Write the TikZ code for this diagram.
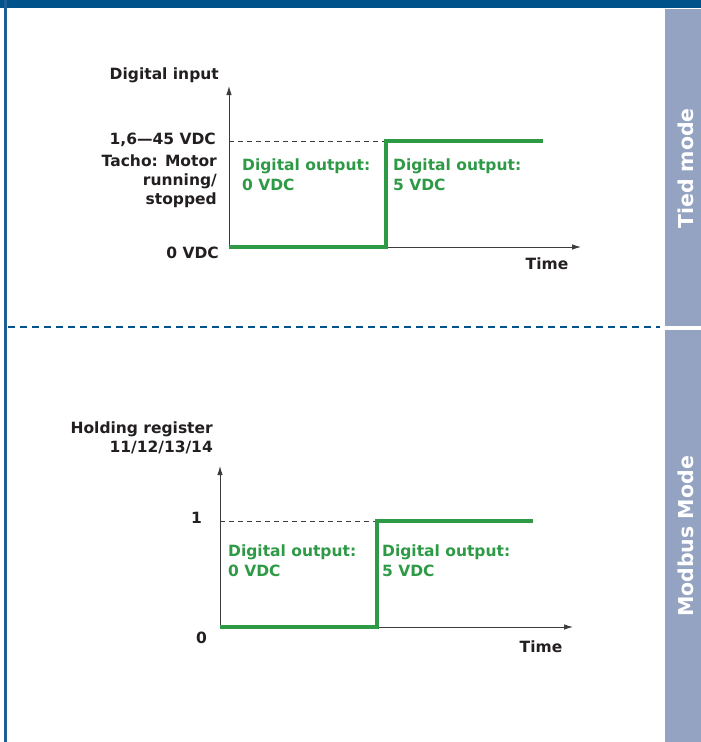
\documentclass[tikz,border=0pt]{standalone}
\usepackage{fontspec}
\setmainfont{DejaVu Sans}
\usetikzlibrary{positioning,arrows.meta}

\definecolor{barblue}{RGB}{0,83,138}
\definecolor{edgeblue}{RGB}{30,95,150}
\definecolor{tabblue}{RGB}{148,163,194}
\definecolor{stepgreen}{RGB}{46,154,70}
\definecolor{inkblack}{RGB}{35,31,32}
\definecolor{axisgray}{RGB}{60,60,60}

\tikzset{
  lbl/.style={inner sep=0pt, text=inkblack, font=\bfseries\fontsize{15.5}{19}\selectfont},
  outlbl/.style={lbl, text=stepgreen, align=left, anchor=north west, font=\bfseries\fontsize{15.5}{20}\selectfont},
  modetag/.style={inner sep=0pt, rotate=90, anchor=base, text=white, font=\bfseries\fontsize{20.5}{24}\selectfont},
  axisline/.style={draw=axisgray, line width=0.9pt, -{Latex[length=9pt,width=5.5pt]}},
  levelline/.style={draw=axisgray, line width=0.7pt, dash pattern=on 5pt off 4pt},
  stepline/.style={draw=stepgreen, line width=3.2pt},
  separator/.style={draw=barblue, line width=2.6pt, dash pattern=on 7pt off 5pt}
}

\begin{document}
\begin{tikzpicture}[x=1pt, y=-1pt]
  \useasboundingbox (0,0) rectangle (701,742);

  % frame and side tabs
  \fill[barblue] (0,0) rectangle (701,8);
  \fill[edgeblue] (4,0) rectangle (7,742);
  \fill[tabblue] (665,9) rectangle (701,326);
  \fill[tabblue] (665,330) rectangle (701,742);
  \node (tied) [modetag] at (693,168.5) {Tied mode};
  \node (modbus) [modetag] at (693,536.5) {Modbus Mode};
  \coordinate (sepL) at (8,327);
  \coordinate (sepR) at (660,327);
  \draw[separator] (sepL) -- (sepR);

  % tied mode
  \coordinate (o1) at (229,247);
  \coordinate (ytip1) at (229,86);
  \coordinate (xtip1) at (581,247);
  \coordinate (hi1) at (229,141);
  \coordinate (edge1) at (386,141);
  \coordinate (end1) at (543,141);
  \draw[axisline] (o1) -- (ytip1);
  \draw[axisline] (o1) -- (xtip1);
  \draw[levelline] (hi1) -- (edge1);
  \draw[stepline] (o1) -| (edge1) -- (end1);

  \node (input) [lbl, anchor=base east] at (219,79) {Digital input};
  \node (range) [lbl, anchor=base east] at (216,144) {1,6—45 VDC};
  \node (tacho) [lbl, anchor=north east, align=right] at (217,155) {Tacho: Motor\\running/\\stopped};
  \node (zero1) [lbl, anchor=base east] at (219,258) {0 VDC};
  \node (time1) [lbl, anchor=base] at (547,269) {Time};
  \node (low1) [outlbl] at (242,159) {Digital output:\\0 VDC};
  \node (high1) [outlbl] at (393,159) {Digital output:\\5 VDC};

  % modbus mode
  \coordinate (o2) at (220,627);
  \coordinate (ytip2) at (220,466);
  \coordinate (xtip2) at (573,627);
  \coordinate (hi2) at (220,521);
  \coordinate (edge2) at (377,521);
  \coordinate (end2) at (533,521);
  \draw[axisline] (o2) -- (ytip2);
  \draw[axisline] (o2) -- (xtip2);
  \draw[levelline] (hi2) -- (edge2);
  \draw[stepline] (o2) -| (edge2) -- (end2);

  \node (holding) [lbl, anchor=north east, align=right] at (213,422) {Holding register\\11/12/13/14};
  \node (one) [lbl, anchor=base east] at (202,523) {1};
  \node (zero2) [lbl, anchor=base east] at (207,643) {0};
  \node (time2) [lbl, anchor=base] at (541,652) {Time};
  \node (low2) [outlbl] at (228,545) {Digital output:\\0 VDC};
  \node (high2) [outlbl] at (382,545) {Digital output:\\5 VDC};
\end{tikzpicture}
\end{document}
